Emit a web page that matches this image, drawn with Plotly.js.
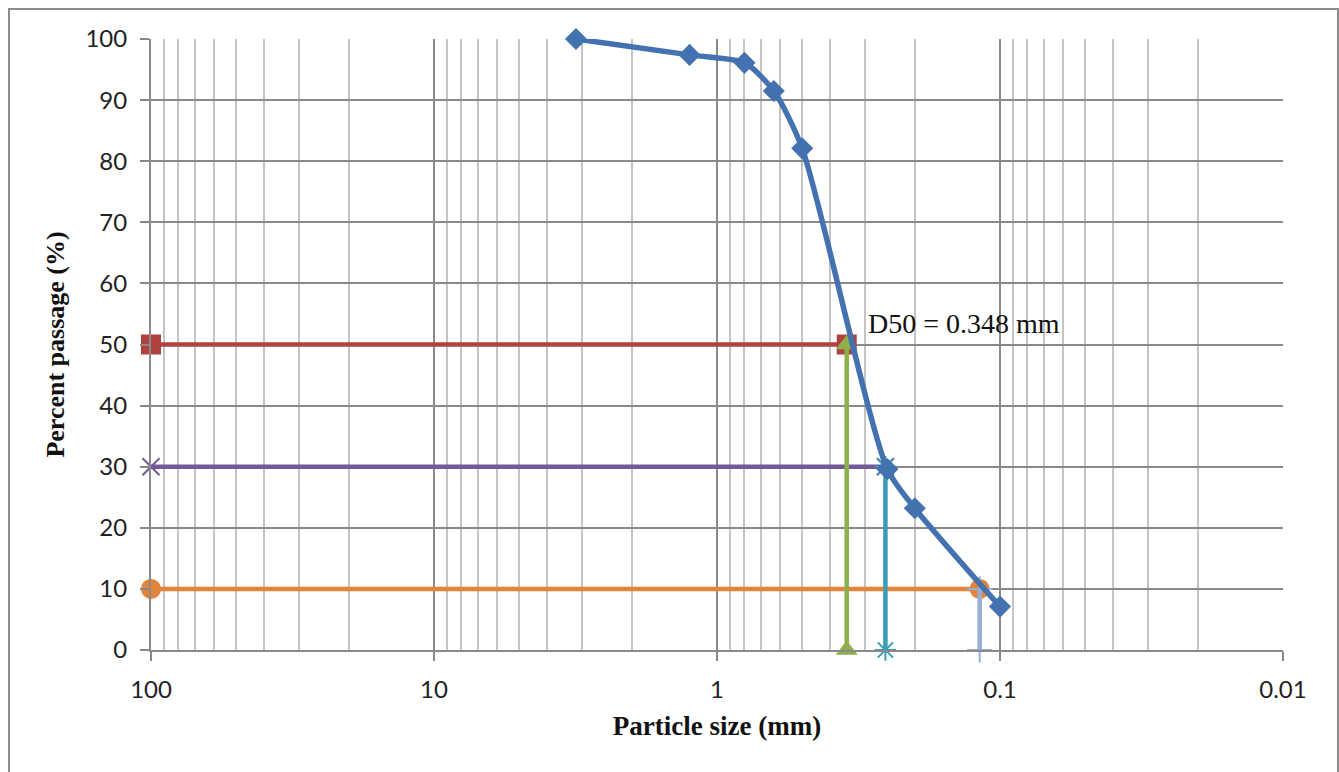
<!DOCTYPE html>
<html>
<head>
<meta charset="utf-8">
<script src="https://cdn.plot.ly/plotly-3.0.1.min.js"></script>
<style>
  html, body { margin: 0; padding: 0; background: #fff; }
  #wrap { position: relative; width: 1339px; height: 772px; overflow: hidden; }
  #chart { position: absolute; left: 0; top: 0; width: 1339px; height: 772px; }
  #frame { position: absolute; left: 8px; top: 8px; width: 1327px; height: 800px; border: 2px solid #8c8c8c; pointer-events: none; }
</style>
</head>
<body>
<div id="wrap">
  <div id="chart"></div>
  <div id="frame"></div>
</div>
<script>
// Grain size distribution (sieve sizes in mm, percent passing)
const sieveSize = [3.15, 1.25, 0.8, 0.63, 0.5, 0.25, 0.2, 0.1];
const percentPassing = [100, 97.4, 96.1, 91.5, 82.1, 29.6, 23.2, 7.1];

// Characteristic diameters
const d50 = 0.348, d30 = 0.254, d10 = 0.118;
const xStart = 100;
const pct50 = 50, pct30 = 30, pct10 = 10;

const xTickVals = [100, 10, 1, 0.1, 0.01];
const xTickText = ['100', '10', '1', '0.1', '0.01'];
const annText = 'D50 = 0.348 mm';

// minor gridline positions (2..9 x each decade)
const minorVals = [];
for (let e = -2; e < 2; e++) {
  for (let m = 2; m <= 9; m++) minorVals.push(m * Math.pow(10, e));
}

const traces = [
  {
    x: [xStart, d50], y: [pct50, pct50], mode: 'lines+markers', cliponaxis: false,
    line: { color: '#b0413e', width: 4.5 },
    marker: { symbol: 'square', size: 20, color: '#b0413e' }
  },
  {
    x: [xStart, d30], y: [pct30, pct30], mode: 'lines+markers', cliponaxis: false,
    line: { color: '#73589a', width: 4.5 },
    marker: { symbol: 'x-thin-open', size: 17, color: '#73589a', line: { width: 2, color: '#73589a' } }
  },
  {
    x: [xStart, d10], y: [pct10, pct10], mode: 'lines+markers', cliponaxis: false,
    line: { color: '#e2843a', width: 4.5 },
    marker: { symbol: 'circle', size: 20, color: '#e2843a' }
  },
  {
    x: [d50, d50], y: [pct50, 0], mode: 'lines+markers', cliponaxis: false,
    line: { color: '#8db04a', width: 4.5 },
    marker: { symbol: 'triangle-up', size: 19, color: '#8db04a' }
  },
  {
    x: [d30, d30], y: [pct30, 0], mode: 'lines+markers', cliponaxis: false,
    line: { color: '#3b9db5', width: 4.5 },
    marker: { symbol: 'asterisk-open', size: 18, color: '#3b9db5', line: { width: 2, color: '#3b9db5' } }
  },
  {
    x: [d10, d10], y: [pct10, 0], mode: 'lines+markers', cliponaxis: false,
    line: { color: '#94aed6', width: 4.5 },
    marker: { symbol: 'cross-thin-open', size: 18, color: '#94aed6', line: { width: 2, color: '#94aed6' } }
  },
  {
    x: sieveSize, y: percentPassing, mode: 'lines+markers', type: 'scatter', cliponaxis: false,
    line: { color: '#4472b0', width: 5.5, shape: 'spline', smoothing: 0.7 },
    marker: { symbol: 'diamond', size: 17, color: '#4472b0' }
  }
];

const titleFont = { family: '"Liberation Serif", "Times New Roman", serif', color: '#111', weight: 'bold' };

const layout = {
  width: 1339, height: 772,
  margin: { l: 151, r: 56, t: 39, b: 122 },
  paper_bgcolor: '#ffffff', plot_bgcolor: '#ffffff',
  showlegend: false,
  font: { family: 'Lato, "Open Sans", sans-serif', color: '#222' },
  xaxis: {
    type: 'log', range: [2, -2],
    tickvals: xTickVals, ticktext: xTickText,
    tickfont: { size: 24, family: 'Lato, sans-serif', color: '#222' },
    ticks: 'outside', ticklen: 9, tickcolor: '#888', tickwidth: 2, ticklabelstandoff: 8,
    showgrid: true, gridcolor: '#8a8a8a', gridwidth: 2,
    showline: true, linecolor: '#8a8a8a', linewidth: 2,
    zeroline: false,
    minor: { tickvals: minorVals, showgrid: true, gridcolor: '#c4c4c4', gridwidth: 2, ticks: '' },
    title: { text: 'Particle size (mm)', font: Object.assign({ size: 27 }, titleFont), standoff: 14 },
    automargin: false
  },
  yaxis: {
    range: [0, 100], dtick: 10,
    tickfont: { size: 24, family: 'Lato, sans-serif', color: '#222' },
    ticks: 'outside', ticklen: 9, tickcolor: '#888', tickwidth: 2, ticklabelstandoff: 8,
    showgrid: true, gridcolor: '#8a8a8a', gridwidth: 2,
    showline: true, linecolor: '#8a8a8a', linewidth: 2,
    zeroline: false,
    title: { text: 'Percent passage (%)', font: Object.assign({ size: 26 }, titleFont), standoff: 13 },
    automargin: false
  },
  annotations: [{
    x: Math.log10(0.298), y: 53.5, xref: 'x', yref: 'y', text: annText, showarrow: false,
    xanchor: 'left', yanchor: 'middle',
    font: { family: '"Liberation Serif", "Times New Roman", serif', size: 28, color: '#111' }
  }]
};

Plotly.newPlot('chart', traces, layout, { displayModeBar: false, staticPlot: true });
</script>
</body>
</html>
